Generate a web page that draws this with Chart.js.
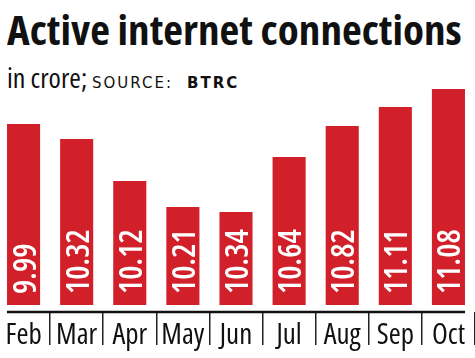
<!DOCTYPE html>
<html>
<head>
<meta charset="utf-8">
<script src="https://cdn.jsdelivr.net/npm/chart.js@4.4.0/dist/chart.umd.min.js"></script>
<style>
  html, body { margin: 0; padding: 0; background: #fff; overflow: hidden; }
  body { width: 475px; height: 358px; position: relative; }
  #title {
    position: absolute; left: 7px; top: 9px;
    font: bold condensed 41px "Open Sans", sans-serif; line-height: 41px;
    color: #111; white-space: nowrap; transform-origin: left top;
  }
  #sub {
    position: absolute; left: 7px; top: 58px; line-height: 28px;
    font: condensed 28px "Open Sans", sans-serif;
    white-space: nowrap; color: #111;
  }
  #sub span { display: inline-block; }
  .unit { width: 85px; }
  .src { font: 15px "DejaVu Sans", sans-serif; letter-spacing: 2px; width: 95px; }
  .org { font: bold 15px "DejaVu Sans", sans-serif; letter-spacing: 2px; }
  #wrap { position: absolute; left: -3px; top: 0; width: 478px; height: 358px; }
</style>
</head>
<body>
<div id="title">Active internet connections</div>
<div id="sub"><span class="unit">in crore;</span><span class="src">SOURCE:</span><span class="org">BTRC</span></div>
<div id="wrap"><canvas id="chart"></canvas></div>
<script>
// Aylar
const months = ["Feb", "Mar", "Apr", "May", "Jun", "Jul", "Aug", "Sep", "Oct"];
// Barlarin icine yazilan degerler (crore)
const valueLabels = ["9.99", "10.32", "10.12", "10.21", "10.34", "10.64", "10.82", "11.11", "11.08"];
// Grafikte cizilen bar boylari (kaynakta yazilan degerlerle orantili degil)
const barLengths = [181, 166, 124, 98, 93, 148, 179, 198, 216];

const red = "#d2202b";

// Baslik genisligini kaynaga uydur
const title = document.getElementById("title");
title.style.transform = "scaleX(" + (455 / title.scrollWidth) + ")";

// Bar icine dikey yazilan degerler + eksen cizgisi
const barText = {
    id: "barText",
    afterDatasetsDraw(chart) {
        const ctx = chart.ctx;
        const meta = chart.getDatasetMeta(0);
        ctx.save();
        ctx.fillStyle = "#fff";
        ctx.font = "600 condensed 32px 'Open Sans', sans-serif";
        ctx.textAlign = "left";
        ctx.textBaseline = "alphabetic";
        meta.data.forEach((bar, i) => {
            ctx.save();
            ctx.translate(bar.x + 12, bar.base - 11);
            ctx.rotate(-Math.PI / 2);
            ctx.fillText(valueLabels[i], 0, 0);
            ctx.restore();
        });
        // alt eksen cizgisi
        const first = meta.data[0], last = meta.data[meta.data.length - 1];
        ctx.strokeStyle = "#111";
        ctx.lineWidth = 2.5;
        ctx.beginPath();
        ctx.moveTo(first.x - first.width / 2, chart.chartArea.bottom);
        ctx.lineTo(last.x + last.width / 2, chart.chartArea.bottom);
        ctx.stroke();
        ctx.restore();
    }
};

new Chart(document.getElementById("chart"), {
    type: "bar",
    data: {
        labels: months,
        datasets: [{
            data: barLengths,
            backgroundColor: red,
            borderWidth: 0,
            categoryPercentage: 1,
            barPercentage: 0.623,
        }]
    },
    options: {
        responsive: true,
        maintainAspectRatio: false,
        animation: false,
        events: [],
        layout: { padding: { top: 89, left: 0, right: 0, bottom: 0 } },
        plugins: { legend: { display: false }, tooltip: { enabled: false } },
        scales: {
            y: { display: false, min: -7, max: 216 },
            x: {
                border: { display: false },
                grid: {
                    offset: true,
                    drawOnChartArea: false,
                    tickLength: 33,
                    lineWidth: 1.5,
                    color: c => (c.index === 0 || c.index === months.length) ? "rgba(0,0,0,0)" : "#222",
                },
                ticks: {
                    color: "#111",
                    padding: -27,
                    autoSkip: false,
                    maxRotation: 0,
                    // weight alanina "condensed" ekleyerek dar font
                    font: { family: "'Open Sans', sans-serif", size: 29, weight: "condensed" },
                },
                afterFit: scale => { scale.height = 46; },
            },
        },
    },
    plugins: [barText],
});
</script>
</body>
</html>
